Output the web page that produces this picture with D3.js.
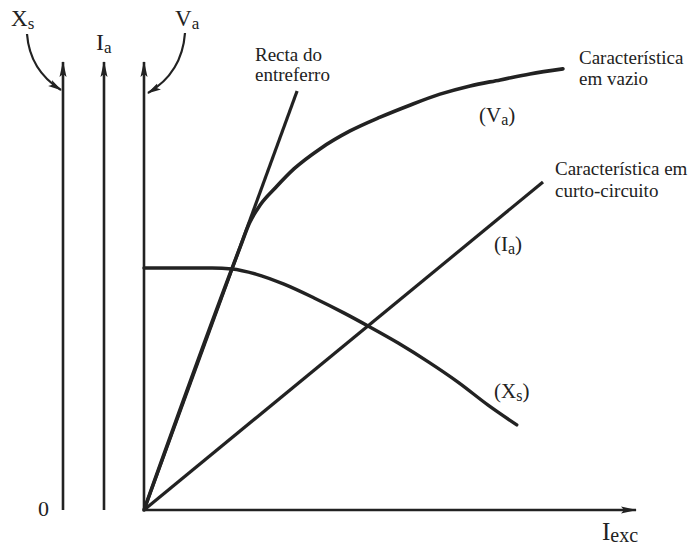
<!DOCTYPE html>
<html>
<head>
<meta charset="utf-8">
<script src="https://cdn.jsdelivr.net/npm/d3@7"></script>
<style>
  html, body { margin: 0; padding: 0; background: #fff; }
  svg { display: block; }
  text { font-family: "Liberation Serif", "Times New Roman", serif; fill: #222; }
</style>
</head>
<body>
<svg id="chart" width="692" height="547"></svg>
<script>
// Synchronous generator characteristics vs. excitation current (arbitrary units)
const airGapLine   = [[0, 0], [3.15, 9.11]];                 // Recta do entreferro
const openCircuit  = [[0, 0], [1.98, 5.72], [2.17, 6.24], [2.39, 6.63], [2.70, 7.00],
                      [3.09, 7.42], [3.62, 7.85], [4.24, 8.24], [4.86, 8.54],
                      [5.47, 8.80], [6.09, 9.04], [6.71, 9.22], [7.33, 9.35],
                      [7.94, 9.48], [8.62, 9.59]];            // Va
const shortCircuit = [[0, 0], [8.21, 7.13]];                 // Ia
const reactanceXs  = [[0, 5.26], [1.40, 5.26], [1.81, 5.24], [2.30, 5.13], [2.88, 4.91],
                      [3.50, 4.61], [4.12, 4.28], [4.61, 4.00], [5.23, 3.63],
                      [5.85, 3.22], [6.46, 2.78], [7.08, 2.28], [7.67, 1.85]];   // Xs
const axisNames    = ["Xs", "Ia", "Va"];

const svg = d3.select("#chart");
const ink = "#222";

const x = d3.scaleLinear().domain([0, 10]).range([144, 630]);
const y = d3.scaleLinear().domain([0, 10]).range([510, 50]);

// arrowheads
const defs = svg.append("defs");
defs.append("marker")
  .attr("id", "arrow")
  .attr("viewBox", "0 0 16 8")
  .attr("refX", 15).attr("refY", 4)
  .attr("markerWidth", 16).attr("markerHeight", 8)
  .attr("markerUnits", "userSpaceOnUse")
  .attr("orient", "auto")
  .append("path").attr("d", "M0,0.5 L16,4 L0,7.5 L3,4 Z").attr("fill", ink);
defs.append("marker")
  .attr("id", "arrowSmall")
  .attr("viewBox", "0 0 14 8")
  .attr("refX", 13).attr("refY", 4)
  .attr("markerWidth", 14).attr("markerHeight", 8)
  .attr("markerUnits", "userSpaceOnUse")
  .attr("orient", "auto")
  .append("path").attr("d", "M0,0.5 L14,4 L0,7.5 L3,4 Z").attr("fill", ink);

// three parallel ordinate axes (Xs, Ia, Va), the Va one at the origin
const axisX = { Xs: 63, Ia: 104, Va: x(0) };
axisNames.forEach(n => {
  svg.append("line")
    .attr("x1", axisX[n]).attr("x2", axisX[n])
    .attr("y1", y(0)).attr("y2", 62)
    .attr("stroke", ink).attr("stroke-width", 2.6)
    .attr("marker-end", "url(#arrow)");
});

// abscissa
svg.append("line")
  .attr("x1", x(0)).attr("x2", 636)
  .attr("y1", y(0)).attr("y2", y(0))
  .attr("stroke", ink).attr("stroke-width", 2.6)
  .attr("marker-end", "url(#arrow)");

// curves
const straight = d3.line().x(d => x(d[0])).y(d => y(d[1]));
const smooth = d3.line().x(d => x(d[0])).y(d => y(d[1])).curve(d3.curveMonotoneX);

svg.append("path").datum(airGapLine).attr("d", straight)
  .attr("fill", "none").attr("stroke", ink).attr("stroke-width", 3.2);
svg.append("path").datum(shortCircuit).attr("d", straight)
  .attr("fill", "none").attr("stroke", ink).attr("stroke-width", 3.2);
svg.append("path").datum(openCircuit).attr("d", smooth)
  .attr("fill", "none").attr("stroke", ink).attr("stroke-width", 3.6).attr("stroke-linecap", "round");
svg.append("path").datum(reactanceXs).attr("d", smooth)
  .attr("fill", "none").attr("stroke", ink).attr("stroke-width", 3.4).attr("stroke-linecap", "round");

// curved pointers from the axis names to their axes
svg.append("path")
  .attr("d", "M27,34 C29,60 42,78 61,90")
  .attr("fill", "none").attr("stroke", ink).attr("stroke-width", 2.2)
  .attr("marker-end", "url(#arrowSmall)");
svg.append("path")
  .attr("d", "M185,33 C183,60 170,80 148,93")
  .attr("fill", "none").attr("stroke", ink).attr("stroke-width", 2.2)
  .attr("marker-end", "url(#arrowSmall)");

// label helper: main text with subscript
function subLabel(px, py, main, sub, size, subSize, dy) {
  const t = svg.append("text").attr("x", px).attr("y", py).attr("font-size", size);
  t.append("tspan").text(main);
  t.append("tspan").attr("font-size", subSize).attr("dy", dy).text(sub);
  return t;
}

subLabel(11, 26, "X", "s", 23, 17, 3);
subLabel(96, 50, "I", "a", 24, 17, 3);
subLabel(175, 26, "V", "a", 23, 17, 3);
subLabel(602, 540, "I", "exc", 25, 20, 2);

svg.append("text").attr("x", 38).attr("y", 516)
  .attr("font-family", "Liberation Sans, Arial, sans-serif")
  .attr("font-size", 22).text("0");

// curve names
function block(px, py, lines, size, lh) {
  const t = svg.append("text").attr("x", px).attr("y", py).attr("font-size", size);
  lines.forEach((l, i) => t.append("tspan").attr("x", px).attr("dy", i ? lh : 0).text(l));
}
block(255, 61, ["Recta do", "entreferro"], 19, 20);
block(579, 64, ["Característica", "em vazio"], 19, 21);
block(555, 175, ["Característica em", "curto-circuito"], 19, 22);

function paren(px, py, main, sub) {
  const t = svg.append("text").attr("x", px).attr("y", py).attr("font-size", 21);
  t.append("tspan").text("(" + main);
  t.append("tspan").attr("font-size", 16).attr("dy", 3).text(sub);
  t.append("tspan").attr("dy", -3).text(")");
}
paren(479, 122, "V", "a");
paren(494, 251, "I", "a");
paren(494, 398, "X", "s");
</script>
</body>
</html>
